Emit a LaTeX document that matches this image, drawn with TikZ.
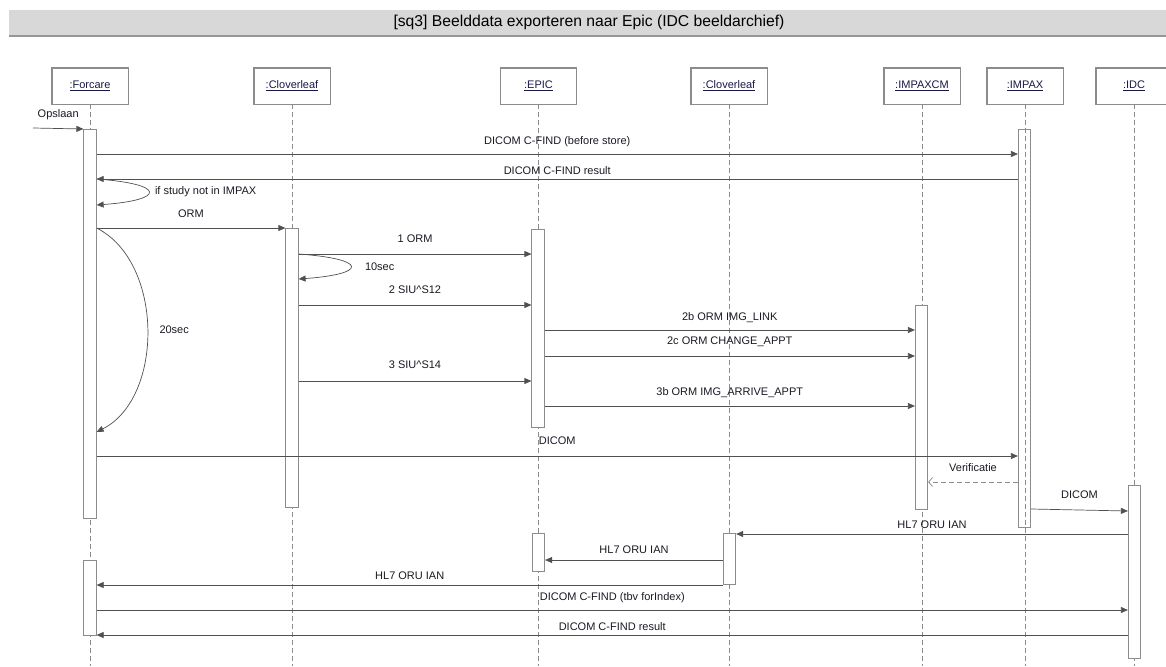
\documentclass[tikz,border=0pt]{standalone}
\usepackage{fontspec}
\setmainfont{Liberation Sans}
\usetikzlibrary{arrows.meta}

\definecolor{linegray}{RGB}{80,80,80}
\definecolor{boxgray}{RGB}{140,140,140}
\definecolor{bargray}{RGB}{216,216,216}
\definecolor{barline}{RGB}{150,150,150}
\definecolor{namecol}{RGB}{25,25,70}
\definecolor{textcol}{RGB}{25,25,35}

\tikzset{
  actor/.style={draw=boxgray, fill=white, minimum width=76, minimum height=36,
    inner sep=0, font=\fontsize{11}{13}\selectfont, text=namecol},
  lifeline/.style={draw=boxgray, dash pattern=on 5pt off 3pt, line width=0.7pt},
  act/.style={draw=boxgray, fill=white, minimum width=12.5, inner sep=0,
    anchor=north, line width=0.7pt},
  msg/.style={draw=linegray, line width=0.7pt, -{Triangle[length=7pt,width=6pt]}},
  reply/.style={draw=boxgray, line width=0.7pt, dash pattern=on 5pt off 3pt,
    -{Straight Barb[length=4pt,width=9pt]}},
  lbl/.style={font=\fontsize{11}{13}\selectfont, text=textcol, anchor=base,
    inner sep=0, yshift=#1},
  lbl/.default=11pt,
  note/.style={font=\fontsize{11}{13}\selectfont, text=textcol, anchor=west,
    inner sep=0, xshift=#1},
  note/.default=6pt
}

\begin{document}
\begin{tikzpicture}[x=1pt, y=-1pt]
  \useasboundingbox (0,0) rectangle (1166,666);

  % title bar
  \fill[bargray] (9,10) rectangle (1170,35);
  \draw[barline, line width=2pt] (9,36) -- (1170,36);
  \node[font=\fontsize{15.7}{18}\selectfont, inner sep=0] (title) at (589,22)
    {[sq3] Beelddata exporteren naar Epic (IDC beeldarchief)};

  % participants
  \node[actor] (forcare) at (90,86) {\underline{:Forcare}};
  \node[actor] (clov) at (292,86) {\underline{:Cloverleaf}};
  \node[actor] (epic) at (538.5,86) {\underline{:EPIC}};
  \node[actor] (clovb) at (729,86) {\underline{:Cloverleaf}};
  \node[actor] (impcm) at (922,86) {\underline{:IMPAXCM}};
  \node[actor] (impax) at (1025,86) {\underline{:IMPAX}};
  \node[actor] (idc) at (1134,86) {\underline{:IDC}};

  \coordinate (forcareEnd) at (90,666);
  \coordinate (clovEnd) at (292,666);
  \coordinate (epicEnd) at (538.5,666);
  \coordinate (clovbEnd) at (729,666);
  \coordinate (impcmEnd) at (922,666);
  \coordinate (impaxEnd) at (1025,666);
  \coordinate (idcEnd) at (1134,666);

  \draw[lifeline] (forcare) -- (forcareEnd);
  \draw[lifeline] (clov) -- (clovEnd);
  \draw[lifeline] (epic) -- (epicEnd);
  \draw[lifeline] (clovb) -- (clovbEnd);
  \draw[lifeline] (impcm) -- (impcmEnd);
  \draw[lifeline] (impax) -- (impaxEnd);
  \draw[lifeline] (idc) -- (idcEnd);
  % redraw participant boxes on top of the lifelines
  \foreach \p in {forcare,clov,epic,clovb,impcm,impax,idc}
    \draw[boxgray, line width=0.7pt] (\p.north west) rectangle (\p.south east);

  % activations
  \node[act, minimum height=389] (forc1) at (90,129) {};
  \node[act, minimum height=75] (forc2) at (90,560) {};
  \node[act, minimum height=279] (clov1) at (292,228) {};
  \node[act, minimum height=198] (epic1) at (538,229) {};
  \node[act, minimum height=38] (epic2) at (538.5,533) {};
  \node[act, minimum height=51] (clovb1) at (729.5,533) {};
  \node[act, minimum height=204] (impcm1) at (921.5,305) {};
  \node[act, minimum height=398, fill=none] (impax1) at (1024.5,129) {};
  \node[act, minimum height=173] (idc1) at (1134.5,485) {};

  % messages
  \coordinate (start) at (33,128);
  \draw[msg] (start) -- (forc1.north west) node[midway, lbl=11pt] {Opslaan};
  \draw[msg] (forc1.east |- 0,154) -- (impax1.west |- 0,154)
    node[midway, lbl=10pt] {DICOM C-FIND (before store)};
  \draw[msg] (impax1.west |- 0,179) -- (forc1.east |- 0,179)
    node[midway, lbl=5pt] {DICOM C-FIND result};
  \draw[msg] (forc1.east |- 0,179) .. controls (166,184) and (166,200) .. (forc1.east |- 0,205)
    node[pos=0.5, note=6pt] {if study not in IMPAX};
  \draw[msg] (forc1.east |- 0,228) -- (clov1.north west)
    node[midway, lbl=11pt] {ORM};
  \draw[msg] (forc1.east |- 0,228) .. controls (164,262) and (164,398) .. (forc1.east |- 0,432)
    node[pos=0.5, note=12pt] {20sec};
  \draw[msg] (clov1.east |- 0,254) -- (epic1.west |- 0,254)
    node[midway, lbl=12pt] {1 ORM};
  \draw[msg] (clov1.east |- 0,254) .. controls (368,259) and (368,274) .. (clov1.east |- 0,279)
    node[pos=0.5, note=14pt] {10sec};
  \draw[msg] (clov1.east |- 0,305) -- (epic1.west |- 0,305)
    node[midway, lbl=12pt] {2 SIU\textasciicircum S12};
  \draw[msg] (epic1.east |- 0,330) -- (impcm1.west |- 0,330)
    node[midway, lbl=10pt] {2b ORM IMG\_LINK};
  \draw[msg] (epic1.east |- 0,356) -- (impcm1.west |- 0,356)
    node[midway, lbl=12pt] {2c ORM CHANGE\_APPT};
  \draw[msg] (clov1.east |- 0,381) -- (epic1.west |- 0,381)
    node[midway, lbl=13pt] {3 SIU\textasciicircum S14};
  \draw[msg] (epic1.east |- 0,406) -- (impcm1.west |- 0,406)
    node[midway, lbl=11pt] {3b ORM IMG\_ARRIVE\_APPT};
  \draw[msg] (forc1.east |- 0,456) -- (impax1.west |- 0,456)
    node[midway, lbl=12pt] {DICOM};
  \draw[reply] (impax1.west |- 0,482) -- (impcm1.east |- 0,482)
    node[midway, lbl=11pt] {Verificatie};
  \draw[msg] (impax1.east |- 0,509) -- (idc1.west |- 0,511)
    node[midway, lbl=12pt] {DICOM};
  \draw[msg] (idc1.west |- 0,534) -- (clovb1.east |- 0,534)
    node[midway, lbl=6pt] {HL7 ORU IAN};
  \draw[msg] (clovb1.west |- 0,560) -- (epic2.east |- 0,560)
    node[midway, lbl=7pt] {HL7 ORU IAN};
  \draw[msg] (clovb1.west |- 0,585) -- (forc2.east |- 0,585)
    node[midway, lbl=6pt] {HL7 ORU IAN};
  \draw[msg] (forc2.east |- 0,610) -- (idc1.west |- 0,610)
    node[midway, lbl=10pt] {DICOM C-FIND (tbv forIndex)};
  \draw[msg] (idc1.west |- 0,635) -- (forc2.east |- 0,635)
    node[midway, lbl=5pt] {DICOM C-FIND result};

\end{tikzpicture}
\end{document}
